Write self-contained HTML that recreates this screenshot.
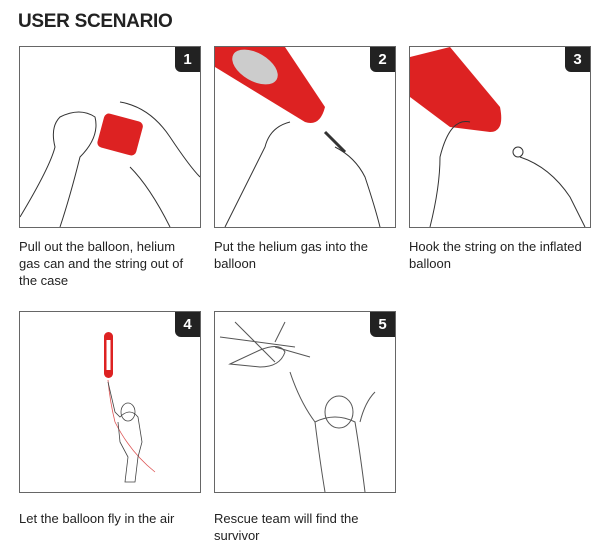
<!DOCTYPE html>
<html><head><style>
body{margin:0;width:605px;height:558px;background:#fff;font-family:"Liberation Sans",sans-serif;color:#222;position:relative;overflow:hidden}
.t{position:absolute;left:18px;top:11px;font-size:19px;font-weight:600;letter-spacing:-0.3px}
.p{position:absolute;width:180px;height:180px;border:1px solid #666;overflow:hidden;background:#fff}
.b{position:absolute;right:0;top:0;width:25px;height:25px;background:#222;color:#fff;font-weight:bold;font-size:15px;text-align:center;line-height:26px;border-bottom-left-radius:6px}
.c{position:absolute;font-size:13px;line-height:17px;width:172px}
svg{position:absolute;left:0;top:0}
</style></head><body>
<div class="t">USER SCENARIO</div>

<div class="p" style="left:19px;top:46px">
<svg width="180" height="180" fill="none" stroke="#333" stroke-width="1">
<path d="M0 170 Q30 120 35 100 Q30 80 40 70 Q60 60 75 70 Q80 90 60 110 Q50 150 40 180"/>
<path d="M100 55 Q130 60 150 90 Q170 120 180 130"/>
<path d="M110 120 Q130 140 150 180"/>
<rect x="80" y="70" width="40" height="35" rx="5" fill="#d22" stroke="none" transform="rotate(15 100 88)"/>
</svg><div class="b">1</div></div>

<div class="p" style="left:214px;top:46px">
<svg width="180" height="180" fill="none" stroke="#333" stroke-width="1">
<path d="M0 0 L70 0 L110 60 Q105 80 90 75 L0 20 Z" fill="#d22" stroke="none"/>
<ellipse cx="40" cy="20" rx="25" ry="14" fill="#ccc" stroke="none" transform="rotate(30 40 20)"/>
<path d="M10 180 Q30 140 50 100 Q55 80 75 75"/>
<path d="M120 100 Q140 110 150 130 Q160 160 165 180"/>
<path d="M110 85 L130 105" stroke-width="3"/>
</svg><div class="b">2</div></div>

<div class="p" style="left:409px;top:46px">
<svg width="180" height="180" fill="none" stroke="#333" stroke-width="1">
<path d="M0 10 L40 0 L90 60 Q95 85 80 85 L40 80 L0 50 Z" fill="#d22" stroke="none"/>
<path d="M20 180 Q30 140 30 110 Q40 70 60 75"/>
<path d="M110 110 Q140 120 160 150 Q170 170 175 180"/>
<circle cx="108" cy="105" r="5"/>
</svg><div class="b">3</div></div>

<div class="c" style="left:19px;top:238px">Pull out the balloon, helium gas can and the string out of the case</div>
<div class="c" style="left:214px;top:238px">Put the helium gas into the balloon</div>
<div class="c" style="left:409px;top:238px;width:190px">Hook the string on the inflated balloon</div>

<div class="p" style="left:19px;top:311px">
<svg width="180" height="180" fill="none" stroke="#444" stroke-width="0.8">
<rect x="84" y="20" width="9" height="46" rx="4.5" fill="#d22" stroke="none"/>
<rect x="86.5" y="28" width="4" height="30" fill="#fff" stroke="none"/>
<path d="M88 68 Q90 90 95 110 Q110 140 135 160" stroke="#d55"/>
<path d="M88 70 L95 100 L100 105 Q110 95 118 105 L122 130 L118 145 L115 170 L105 170 L108 145 L100 130 L98 110"/>
<ellipse cx="108" cy="100" rx="7" ry="9"/>
</svg><div class="b">4</div></div>

<div class="p" style="left:214px;top:311px">
<svg width="180" height="180" fill="none" stroke="#555" stroke-width="1">
<path d="M20 10 L60 50 M5 25 L80 35 M60 30 L70 10 M60 35 L95 45"/>
<path d="M15 52 Q30 45 45 38 Q65 30 70 40 Q65 55 45 55 Z"/>
<path d="M75 60 Q85 90 100 110 Q120 100 140 110 Q145 140 150 180 M100 110 Q105 150 110 180"/>
<ellipse cx="124" cy="100" rx="14" ry="16"/>
<path d="M145 110 Q150 90 160 80"/>
</svg><div class="b">5</div></div>

<div class="c" style="left:19px;top:510px">Let the balloon fly in the air</div>
<div class="c" style="left:214px;top:510px">Rescue team will find the survivor</div>
</body></html>
